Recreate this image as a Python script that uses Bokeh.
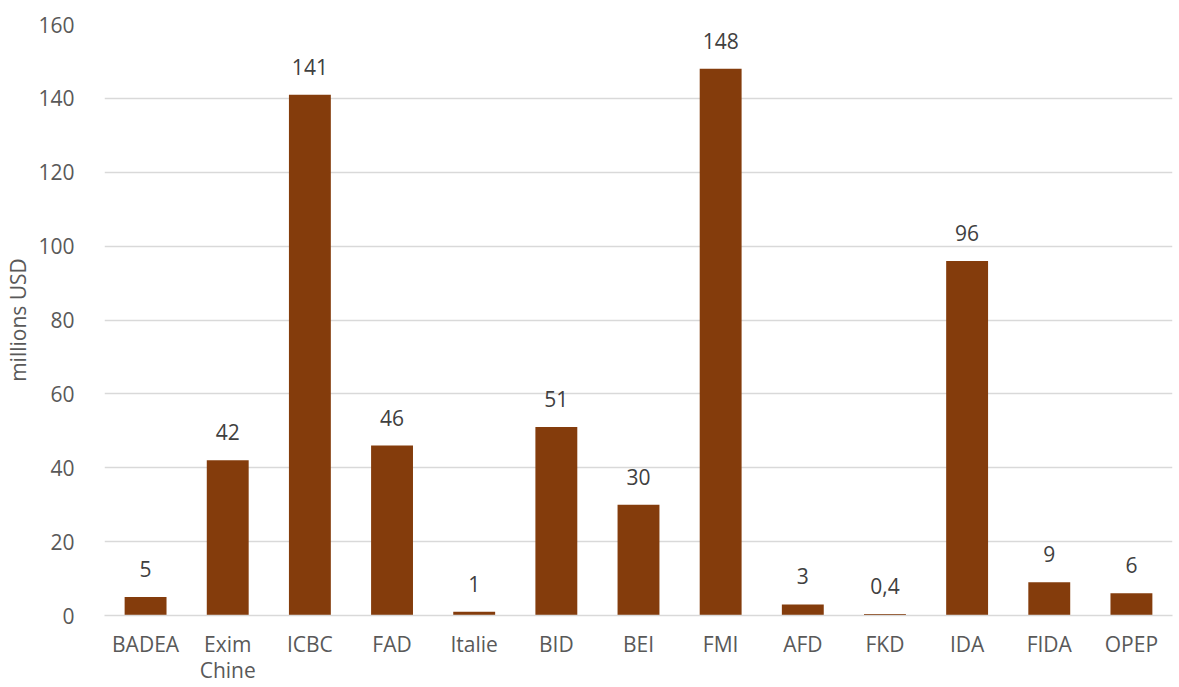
from bokeh.plotting import figure
from bokeh.models import ColumnDataSource, Range1d, FactorRange, CustomJSTickFormatter
from bokeh.core.properties import value
from bokeh.embed import file_html
from bokeh.resources import INLINE

categories = ["BADEA", "Exim Chine", "ICBC", "FAD", "Italie", "BID", "BEI", "FMI", "AFD", "FKD", "IDA", "FIDA", "OPEP"]
values = [5, 42, 141, 46, 1, 51, 30, 148, 3, 0.4, 96, 9, 6]
value_labels = ["5", "42", "141", "46", "1", "51", "30", "148", "3", "0,4", "96", "9", "6"]
tick_labels = {"Exim Chine": "Exim\nChine"}
y_ticks = [0, 20, 40, 60, 80, 100, 120, 140, 160]

FONT = "Open Sans"
FS = "21px"

src = ColumnDataSource(dict(cat=categories, val=values, lab=value_labels))

p = figure(width=1176, height=687, output_backend="svg", toolbar_location=None,
           x_range=FactorRange(*categories, range_padding=0), y_range=Range1d(0, 160),
           min_border_left=104, min_border_right=4, min_border_top=24, min_border_bottom=70)
p.outline_line_color = None
p.background_fill_color = "white"
p.border_fill_color = "white"

p.vbar(x="cat", top="val", width=0.51, source=src, fill_color="#843C0C", line_color=None)

p.text(x="cat", y="val", text="lab", source=src, text_align="center", text_baseline="bottom",
       y_offset=-20, text_font=value(FONT), text_font_size=FS, text_color="#404040")

p.yaxis.ticker = y_ticks
p.yaxis.axis_line_color = None
p.yaxis.major_tick_line_color = None
p.yaxis.minor_tick_line_color = None
p.yaxis.major_label_text_font = FONT
p.yaxis.major_label_text_font_size = FS
p.yaxis.major_label_text_color = "#595959"
p.yaxis.major_label_standoff = 24
p.yaxis.axis_label = "millions USD"
p.yaxis.axis_label_text_font = FONT
p.yaxis.axis_label_text_font_size = FS
p.yaxis.axis_label_text_font_style = "normal"
p.yaxis.axis_label_text_color = "#595959"
p.yaxis.axis_label_standoff = 3

p.xaxis.axis_line_color = "#D9D9D9"
p.xaxis.axis_line_width = 1.5
p.xaxis.major_tick_line_color = None
p.xaxis.minor_tick_line_color = None
p.xaxis.major_label_text_font = FONT
p.xaxis.major_label_text_font_size = FS
p.xaxis.major_label_text_color = "#595959"
p.xaxis.major_label_text_line_height = 0.95
p.xaxis.major_label_standoff = 8
p.xaxis.formatter = CustomJSTickFormatter(args=dict(m=tick_labels),
                                          code="return (tick in m) ? m[tick] : tick;")

p.xgrid.grid_line_color = None
p.ygrid.grid_line_color = "#D9D9D9"
p.ygrid.grid_line_width = 1.5

open("out.html", "w").write(file_html(p, INLINE))
